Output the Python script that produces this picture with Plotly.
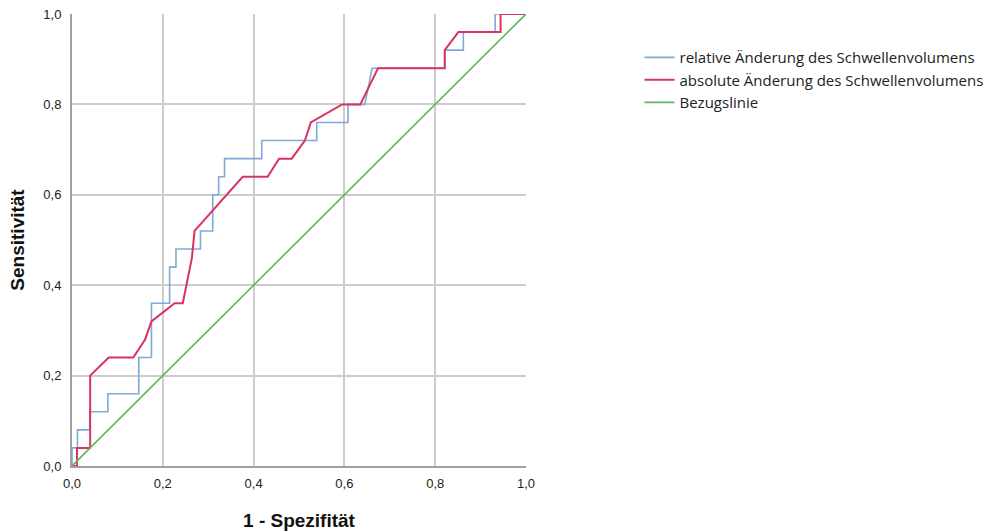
import plotly.graph_objects as go

# Relative change (blue step curve)
rel_x = [0, 0, 0.012, 0.012, 0.039, 0.039, 0.079, 0.079, 0.147, 0.147, 0.175, 0.175,
         0.215, 0.215, 0.229, 0.229, 0.283, 0.283, 0.310, 0.310, 0.323, 0.323, 0.336, 0.336,
         0.418, 0.418, 0.539, 0.539, 0.608, 0.608, 0.645, 0.661, 0.821, 0.821, 0.862, 0.862,
         0.932, 0.932, 1.0]
rel_y = [0, 0.04, 0.04, 0.08, 0.08, 0.12, 0.12, 0.16, 0.16, 0.24, 0.24, 0.36,
         0.36, 0.44, 0.44, 0.48, 0.48, 0.52, 0.52, 0.60, 0.60, 0.64, 0.64, 0.68,
         0.68, 0.72, 0.72, 0.76, 0.76, 0.80, 0.80, 0.88, 0.88, 0.92, 0.92, 0.96,
         0.96, 1.0, 1.0]

# Absolute change (red curve)
abs_x = [0, 0.011, 0.011, 0.040, 0.040, 0.081, 0.135, 0.161, 0.175, 0.226, 0.244, 0.264,
         0.270, 0.376, 0.431, 0.456, 0.484, 0.513, 0.526, 0.595, 0.635, 0.674, 0.821,
         0.821, 0.851, 0.944, 0.944, 1.0]
abs_y = [0, 0, 0.04, 0.04, 0.20, 0.24, 0.24, 0.28, 0.32, 0.36, 0.36, 0.46,
         0.52, 0.64, 0.64, 0.68, 0.68, 0.72, 0.76, 0.80, 0.80, 0.88, 0.88,
         0.92, 0.96, 0.96, 1.0, 1.0]

# Reference line
ref_x = [0, 1]
ref_y = [0, 1]

tick_vals = [0, 0.2, 0.4, 0.6, 0.8, 1.0]
tick_text = ["0,0", "0,2", "0,4", "0,6", "0,8", "1,0"]

fig = go.Figure()
fig.add_trace(go.Scatter(x=rel_x, y=rel_y, mode="lines",
                         name="relative Änderung des Schwellenvolumens",
                         line=dict(color="#7fa9d9", width=1.6)))
fig.add_trace(go.Scatter(x=abs_x, y=abs_y, mode="lines",
                         name="absolute Änderung des Schwellenvolumens",
                         line=dict(color="#d9345e", width=2)))
fig.add_trace(go.Scatter(x=ref_x, y=ref_y, mode="lines",
                         name="Bezugslinie",
                         line=dict(color="#63b25f", width=1.6)))

axis_common = dict(
    range=[0, 1], tickvals=tick_vals, ticktext=tick_text,
    showgrid=True, gridcolor="#cccccc", gridwidth=1.5,
    showline=True, linecolor="#a0a0a0", linewidth=2,
    zeroline=False, ticks="", automargin=False,
    tickfont=dict(family="Liberation Sans, Arial", size=13, color="#222222"),
)

fig.update_layout(
    width=1000, height=532,
    margin=dict(l=72, r=472, t=14, b=66),
    paper_bgcolor="white", plot_bgcolor="white",
    xaxis=dict(**axis_common, ticklabelstandoff=4,
               title=dict(text="<b>1 - Spezifität</b>", standoff=24,
                          font=dict(family="Liberation Sans, Arial", size=19, color="#111111"))),
    yaxis=dict(**axis_common, ticklabelstandoff=6,
               title=dict(text="<b>Sensitivität</b>", standoff=14,
                          font=dict(family="Liberation Sans, Arial", size=19, color="#111111"))),
    legend=dict(x=1.25, y=0.94, xanchor="left", yanchor="top",
                font=dict(family="Open Sans, Lato", size=15, color="#222222"),
                bgcolor="rgba(0,0,0,0)", tracegroupgap=0),
    showlegend=True,
)

fig.write_html("out.html")
